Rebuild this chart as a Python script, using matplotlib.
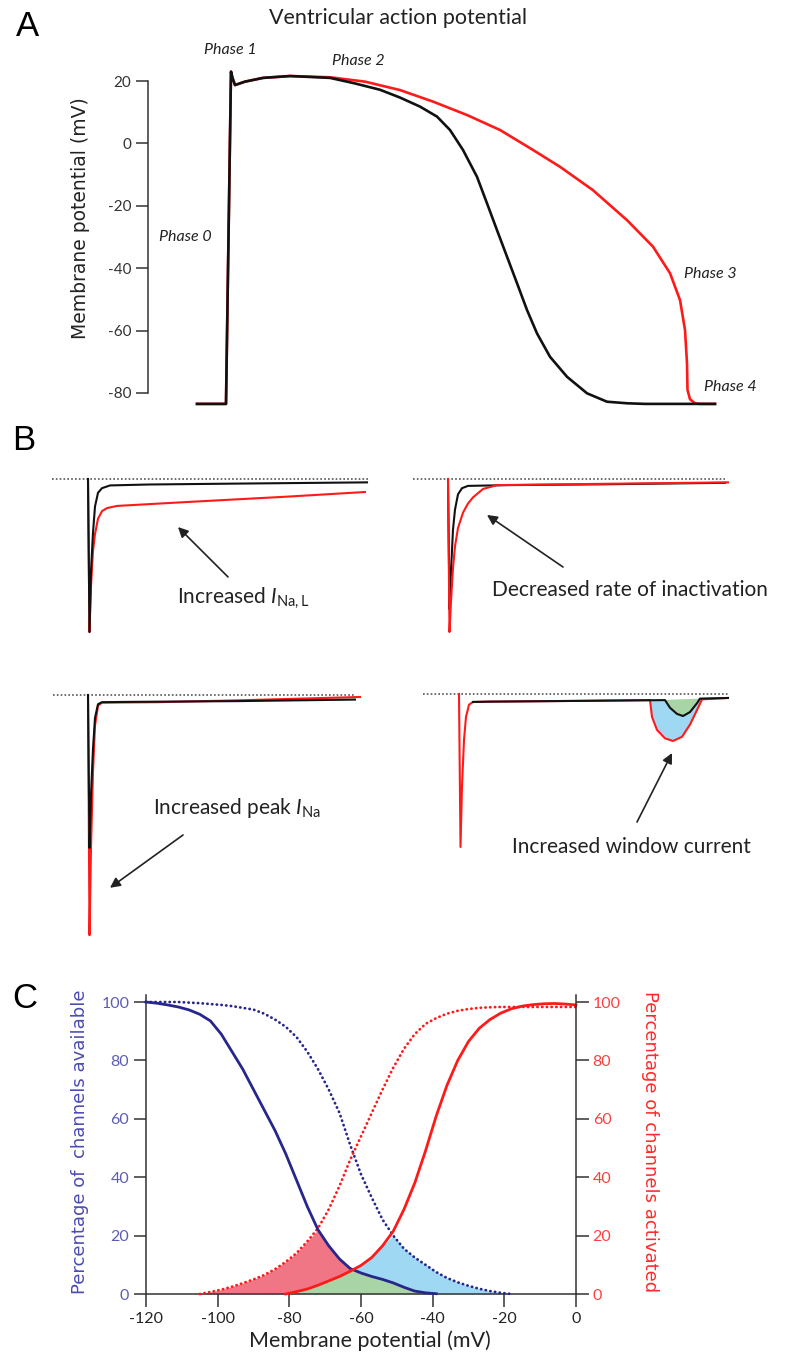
import numpy as np
import matplotlib.pyplot as plt

plt.rcParams['font.family'] = ['Lato', 'DejaVu Sans']
plt.rcParams['mathtext.fontset'] = 'custom'
plt.rcParams['mathtext.rm'] = 'Lato'
plt.rcParams['mathtext.it'] = 'Lato:italic'
plt.rcParams['axes.unicode_minus'] = False

W, H = 785, 1355
RED = '#ff1a1a'
BLK = '#111111'
NAVY = '#26268c'

# ---------------- A: ventricular action potential (ms, mV)
ap_t_normal = [-28, 1, 6, 7.5, 10, 20, 38, 65, 105, 129, 155, 175, 195, 212, 225, 238, 252, 262,
               272, 282, 292, 302, 312, 325, 342, 362, 382, 402, 420, 490]
ap_v_normal = [-83.5, -83.5, 23, 21, 18.7, 19.8, 21, 21.6, 21.0, 19.3, 17.2, 14.7, 11.8, 8.6, 4.3,
               -2.1, -10.7, -19.2, -27.8, -36.3, -44.8, -53.4, -60.9, -68.4, -74.8, -80.1, -82.8,
               -83.3, -83.5, -83.5]
ap_t_long = [-28, 1, 6, 7.5, 10, 20, 38, 65, 105, 140, 175, 208, 242, 275, 308, 335, 368, 402,
             428, 445, 455, 460, 462, 462.5, 465, 470, 475, 490]
ap_v_long = [-83.5, -83.5, 23, 21, 18.7, 19.8, 21, 21.6, 21.2, 19.8, 17.1, 13.4, 9.1, 4.3, -2.1,
             -7.5, -15, -24.6, -33.1, -41.6, -50.2, -59.8, -70.5, -79, -82, -83.3, -83.5, -83.5]
ap_ticks = [-80, -60, -40, -20, 0, 20]
phase_names = ['Phase 0', 'Phase 1', 'Phase 2', 'Phase 3', 'Phase 4']
phase_t = [-40, 5, 133, 485, 505]
phase_v = [-30, 30, 26.4, -42, -78]

# ---------------- B: sodium current traces (ms, normalised current)
tl_t_black = [0, 1.5, 3, 5, 7, 10, 14, 22, 60, 150, 279]
tl_black = [0, -1.0, -0.6, -0.35, -0.18, -0.09, -0.06, -0.042, -0.036, -0.03, -0.022]
tl_t_red = [0, 1.5, 3, 5, 7, 10, 14, 19, 29, 100, 200, 277]
tl_red = [0, -1.0, -0.7, -0.47, -0.36, -0.26, -0.21, -0.19, -0.176, -0.15, -0.115, -0.085]

tr_t_black = [0, 1.5, 3, 5, 7, 10, 14, 20, 60, 150, 277]
tr_black = [0, -0.85, -0.6, -0.33, -0.2, -0.1, -0.06, -0.045, -0.04, -0.035, -0.025]
tr_t_red = [0, 1.5, 3, 5, 7, 10, 15, 20, 25, 35, 49, 150, 280]
tr_red = [0, -1.0, -0.8, -0.58, -0.44, -0.32, -0.22, -0.16, -0.12, -0.065, -0.04, -0.032, -0.022]

bl_t_black = [0, 1.5, 3, 5, 7, 10, 14, 40, 150, 267]
bl_black = [0, -1.0, -0.65, -0.35, -0.15, -0.06, -0.047, -0.045, -0.04, -0.03]
bl_t_red = [0, 1.5, 3, 5, 7, 10, 14, 70, 150, 272]
bl_red = [0, -1.57, -1.0, -0.5, -0.2, -0.07, -0.05, -0.047, -0.035, -0.013]

br_t_red = [0, 1.5, 3, 5, 7, 10, 14, 30, 120]
br_red = [0, -1.0, -0.6, -0.3, -0.15, -0.07, -0.052, -0.05, -0.045]
br_t_black = [14, 30, 120]
br_black = [-0.052, -0.05, -0.045]
win_t_red = [191, 193, 198, 206, 214, 223, 231, 238, 243]
win_red = [-0.04, -0.15, -0.235, -0.29, -0.307, -0.28, -0.2, -0.105, -0.035]
win_t_black = [206, 211, 218, 224, 231, 238, 241]
win_black = [-0.04, -0.09, -0.13, -0.144, -0.118, -0.06, -0.03]
br_t_end, br_end = 269, -0.026

zero_spans = {'tl': (-36, 282), 'tr': (-35, 277), 'bl': (-35, 267), 'br': (-36, 269)}

# ---------------- C: steady-state curves (mV, %)
mv = np.arange(-120, 3, 3)
nan = np.nan
avail_normal = [100, 100, 100, 100, 99.8, 99.6, 99.3, 99.0, 98.6, 98.0, 97.4, 96.0, 94.0, 91.5,
                88.0, 83.0, 77.0, 70.0, 62.0, 51.0, 41.0, 33.0, 25.5, 20.0, 15.5, 12.5, 10.0,
                7.5, 5.5, 4.0, 2.8, 1.8, 1.0, 0.4, 0.0] + [nan] * 6
act_normal = [nan] * 5 + [0.0, 0.7, 1.5, 2.5, 3.7, 5.0, 6.5, 8.5, 11.0, 14.0, 18.0, 22.5, 29.0,
                          37.0, 46.0, 54.0, 62.0, 70.0, 77.5, 84.0, 89.0, 92.5, 94.5, 96.0, 97.0,
                          97.6, 98.0, 98.2, 98.3, 98.3, 98.3, 98.3, 98.3, 98.3, 98.3, 98.3]
avail_shift = [100, 99.6, 99.0, 98.3, 97.3, 95.8, 93.5, 89.0, 83.0, 77.0, 70.0, 63.0, 56.0, 48.0,
               39.0, 30.0, 22.0, 16.5, 12.0, 8.7, 7.2, 6.0, 5.0, 3.8, 2.3, 1.0, 0.4, 0.1] + [nan] * 13
act_shift = [nan] * 13 + [0.0, 0.8, 1.7, 3.0, 4.5, 6.0, 7.8, 9.8, 12.5, 16.5, 21.5, 29.0, 38.0,
                          49.0, 61.0, 71.5, 80.0, 86.5, 91.0, 94.0, 96.2, 97.7, 98.6, 99.1, 99.4,
                          99.5, 99.3, 99.0]
pct_ticks = [0, 20, 40, 60, 80, 100]
mv_ticks = [-120, -100, -80, -60, -40, -20, 0]

fig = plt.figure(figsize=(W / 100, H / 100), dpi=100)


def px_axes(x0, y0, x1, y1):
    return fig.add_axes([x0 / W, 1 - y1 / H, (x1 - x0) / W, (y1 - y0) / H])


def ftext(x, y, s, **kw):
    fig.text(x / W, 1 - y / H, s, **kw)


# ---------- panel A
axA = px_axes(148, 62.3, 725, 411.7)
axA.plot(ap_t_long, ap_v_long, color=RED, lw=1.9, clip_on=False)
axA.plot(ap_t_normal, ap_v_normal, color=BLK, lw=1.9, clip_on=False)
axA.set_xlim(-77, 500)
axA.set_ylim(-86, 26)
for s in ['top', 'right', 'bottom']:
    axA.spines[s].set_visible(False)
axA.spines['left'].set_bounds(-80, 20)
axA.spines['left'].set_color('#333')
axA.spines['left'].set_linewidth(1.1)
axA.set_xticks([])
axA.set_yticks(ap_ticks)
axA.tick_params(axis='y', length=9, width=1.1, pad=3, labelsize=11, color='#333', labelcolor='#333')
for name, t, v in zip(phase_names, phase_t, phase_v):
    axA.text(t, v, name, style='italic', fontsize=11.5, ha='center', va='center', color='#222')

ftext(27, 27, 'A', fontsize=25, family='Liberation Sans', ha='center', va='center')
ftext(398, 18, 'Ventricular action potential', fontsize=15.5, ha='center', va='center', color='#222')
ftext(81, 218, 'Membrane potential (mV)', rotation=90, fontsize=13.5, family='DejaVu Sans',
      ha='center', va='center', color='#222')

# ---------- panel B
ftext(24, 441, 'B', fontsize=25, family='Liberation Sans', ha='center', va='center')
arrow_kw = dict(arrowstyle='-|>', lw=1.2, color='#222', mutation_scale=15, shrinkA=0, shrinkB=0)
lab_kw = dict(fontsize=15, ha='left', va='center', color='#222')

axTL = px_axes(40, 470, 380, 640)
axTL.set_xlim(-48, 292)
axTL.set_ylim(-1.052, 0.0588)
axTR = px_axes(405, 470, 785, 640)
axTR.set_xlim(-43, 337)
axTR.set_ylim(-1.052, 0.0588)
axBL = px_axes(40, 686, 380, 945)
axBL.set_xlim(-48, 292)
axBL.set_ylim(-1.634, 0.0588)
axBR = px_axes(405, 685, 785, 858)
axBR.set_xlim(-54, 326)
axBR.set_ylim(-1.072, 0.0588)

for key, ax in zip(['tl', 'tr', 'bl', 'br'], [axTL, axTR, axBL, axBR]):
    ax.axis('off')
    ax.plot(zero_spans[key], [0, 0], color='#555', lw=1.2, linestyle=(0, (1, 1.3)), clip_on=False)

axTL.plot(tl_t_red, tl_red, color=RED, lw=1.5, clip_on=False)
axTL.plot(tl_t_black, tl_black, color=BLK, lw=1.5, clip_on=False)
axTL.annotate('', xy=(90, -0.314), xytext=(140, -0.64), arrowprops=arrow_kw)
axTL.text(89, -0.78, r'Increased $I_{\mathrm{Na,L}}$', **lab_kw)

axTR.plot(tr_t_black, tr_black, color=BLK, lw=1.5, clip_on=False)
axTR.plot(tr_t_red, tr_red, color=RED, lw=1.5, clip_on=False)
axTR.annotate('', xy=(39, -0.235), xytext=(115, -0.575), arrowprops=arrow_kw)
axTR.text(44, -0.725, 'Decreased rate of inactivation', **lab_kw)

axBL.plot(bl_t_red, bl_red, color=RED, lw=1.5, clip_on=False)
axBL.plot(bl_t_black, bl_black, color=BLK, lw=1.5, clip_on=False)
axBL.annotate('', xy=(22, -1.26), xytext=(95, -0.915), arrowprops=arrow_kw)
axBL.text(65, -0.74, r'Increased peak $I_{\mathrm{Na}}$', **lab_kw)

axBR.fill(win_t_red, win_red, color='#9fd8f2', lw=0)
axBR.fill(win_t_black, win_black, color='#a9d4a5', lw=0)
axBR.plot(br_t_red + win_t_red + [br_t_end], br_red + win_red + [br_end], color=RED, lw=1.5, clip_on=False)
axBR.plot(br_t_black + win_t_black + [br_t_end], br_black + win_black + [br_end], color=BLK, lw=1.5,
          clip_on=False)
axBR.annotate('', xy=(213, -0.386), xytext=(178, -0.837), arrowprops=arrow_kw)
axBR.text(53, -1.0, 'Increased window current', **lab_kw)

# ---------- panel C
ftext(25, 998, 'C', fontsize=25, family='Liberation Sans', ha='center', va='center')
axC = px_axes(146, 995, 576, 1294)
axC2 = axC.twinx()
an, ac = np.nan_to_num(avail_normal), np.nan_to_num(act_normal)
asf, acs = np.nan_to_num(avail_shift), np.nan_to_num(act_shift)
green_top = np.minimum(acs, asf)
pink_top = np.minimum(ac, asf)
blue_top = np.minimum(acs, an)
axC.fill_between(mv, green_top, pink_top, where=pink_top > green_top, interpolate=True,
                 color='#f07585', lw=0, zorder=1)
axC.fill_between(mv, green_top, blue_top, where=blue_top > green_top, interpolate=True,
                 color='#9fd8f2', lw=0, zorder=1)
axC.fill_between(mv, 0, green_top, color='#a9d4a5', lw=0, zorder=1)

dot = (0, (0.1, 1.6))
axC.plot(mv, avail_normal, color=NAVY, lw=2.0, linestyle=dot, dash_capstyle='round', clip_on=False, zorder=3)
axC.plot(mv, act_normal, color=RED, lw=2.0, linestyle=dot, dash_capstyle='round', clip_on=False, zorder=3)
axC.plot(mv, avail_shift, color=NAVY, lw=2.0, clip_on=False, zorder=4)
axC.plot(mv, act_shift, color=RED, lw=2.0, clip_on=False, zorder=4)

for ax in [axC, axC2]:
    ax.set_xlim(-120, 0)
    ax.set_ylim(0, 102.4)
    ax.spines['top'].set_visible(False)
    for s in ax.spines.values():
        s.set_color('#333')
        s.set_linewidth(1.1)
axC.spines['right'].set_visible(False)
axC2.spines['left'].set_visible(False)
axC2.spines['bottom'].set_visible(False)
axC.set_xticks(mv_ticks)
axC.set_xticklabels([str(v) for v in mv_ticks])
axC.set_yticks(pct_ticks)
axC2.set_yticks(pct_ticks)
axC.tick_params(axis='x', length=9, width=1.1, pad=4, labelsize=11.5, color='#333', labelcolor='#222')
axC.tick_params(axis='y', length=9, width=1.1, pad=3, labelsize=11.5, color='#333', labelcolor='#5d5db5')
axC2.tick_params(axis='y', length=9, width=1.1, pad=3, labelsize=11.5, color='#333', labelcolor='#ff4040')

ftext(80, 1142, 'Percentage of  channels available', rotation=90, fontsize=13, family='DejaVu Sans',
      ha='center', va='center', color='#4b4bb5')
ftext(650, 1142, 'Percentage of channels activated', rotation=270, fontsize=13, family='DejaVu Sans',
      ha='center', va='center', color='#ff2a2a')
ftext(370, 1341, 'Membrane potential (mV)', fontsize=15.5, ha='center', va='center', color='#222')

fig.savefig('out.png', dpi=100)
